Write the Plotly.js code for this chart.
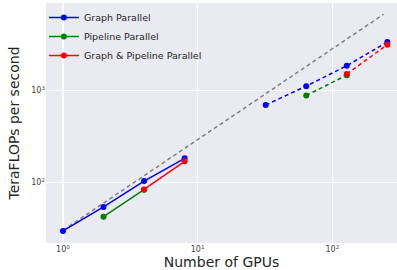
<!DOCTYPE html>
<html>
<head>
<meta charset="utf-8">
<script src="https://cdn.plot.ly/plotly-3.0.1.min.js"></script>
<style>html,body{margin:0;padding:0;background:#fff;}#chart{width:397px;height:270px;}</style>
</head>
<body>
<div id="chart"></div>
<script>
// Data
var graphX = [1, 2, 4, 8];
var graphY = [29.6, 54, 103, 182];
var graphX2 = [32, 64, 128, 256];
var graphY2 = [692, 1110, 1850, 3350];

var pipeX = [2, 4];
var pipeY = [42.3, 83];
var pipeX2 = [64, 128];
var pipeY2 = [880, 1460];

var gpX = [4, 8];
var gpY = [83.5, 169];
var gpX2 = [128, 256];
var gpY2 = [1505, 3130];

var idealX = [1, 240];
var idealY = [30, 6700];

var xTickVals = [1, 10, 100];
var xTickText = ['10<sup>0</sup>', '10<sup>1</sup>', '10<sup>2</sup>'];
var yTickVals = [100, 1000];
var yTickText = ['10<sup>2</sup>', '10<sup>3</sup>'];

var names = ['Graph Parallel', 'Pipeline Parallel', 'Graph & Pipeline Parallel'];
var colors = ['#0000ff', '#008000', '#ff0000'];

function solid(x, y, i) {
  return {x: x, y: y, type: 'scatter', mode: 'lines+markers', name: names[i],
    line: {color: colors[i], width: 1.5}, marker: {color: colors[i], size: 6},
    legendgroup: 'g' + i, showlegend: true};
}
function dashed(x, y, i) {
  return {x: x, y: y, type: 'scatter', mode: 'lines+markers', name: names[i],
    line: {color: colors[i], width: 1.5, dash: '4px,3px'}, marker: {color: colors[i], size: 6},
    legendgroup: 'g' + i, showlegend: false};
}

var traces = [
  {x: idealX, y: idealY, type: 'scatter', mode: 'lines', showlegend: false,
   line: {color: '#808080', width: 1.5, dash: '4px,3px'}, hoverinfo: 'skip'},
  solid(graphX, graphY, 0), dashed(graphX2, graphY2, 0),
  solid(pipeX, pipeY, 1), dashed(pipeX2, pipeY2, 1),
  solid(gpX, gpY, 2), dashed(gpX2, gpY2, 2)
];

var layout = {
  width: 397, height: 270,
  margin: {l: 46, r: 0, t: 3, b: 27},
  paper_bgcolor: '#ffffff',
  plot_bgcolor: '#eaeaf2',
  font: {family: 'DejaVu Sans', color: '#262626'},
  showlegend: true,
  legend: {x: -0.006, y: 1.0, xanchor: 'left', yanchor: 'top', bgcolor: 'rgba(0,0,0,0)',
    font: {size: 9.5, color: '#262626'}, tracegroupgap: 0, traceorder: 'normal'},
  xaxis: {type: 'log', range: [-0.126, 2.48], tickvals: xTickVals, ticktext: xTickText,
    showgrid: true, gridcolor: '#ffffff', gridwidth: 1.2, zeroline: false, showline: false,
    ticks: '', tickfont: {size: 8, color: '#444'},
    title: {text: 'Number of GPUs', font: {size: 14, color: '#262626'}, standoff: 15}},
  yaxis: {type: 'log', range: [1.34, 3.949], tickvals: yTickVals, ticktext: yTickText,
    showgrid: true, gridcolor: '#ffffff', gridwidth: 1.2, zeroline: false, showline: false,
    ticks: '', tickfont: {size: 8, color: '#444'},
    title: {text: 'TeraFLOPs per second', font: {size: 14, color: '#262626'}, standoff: 8}}
};

Plotly.newPlot('chart', traces, layout, {displayModeBar: false, staticPlot: true});
</script>
</body>
</html>
